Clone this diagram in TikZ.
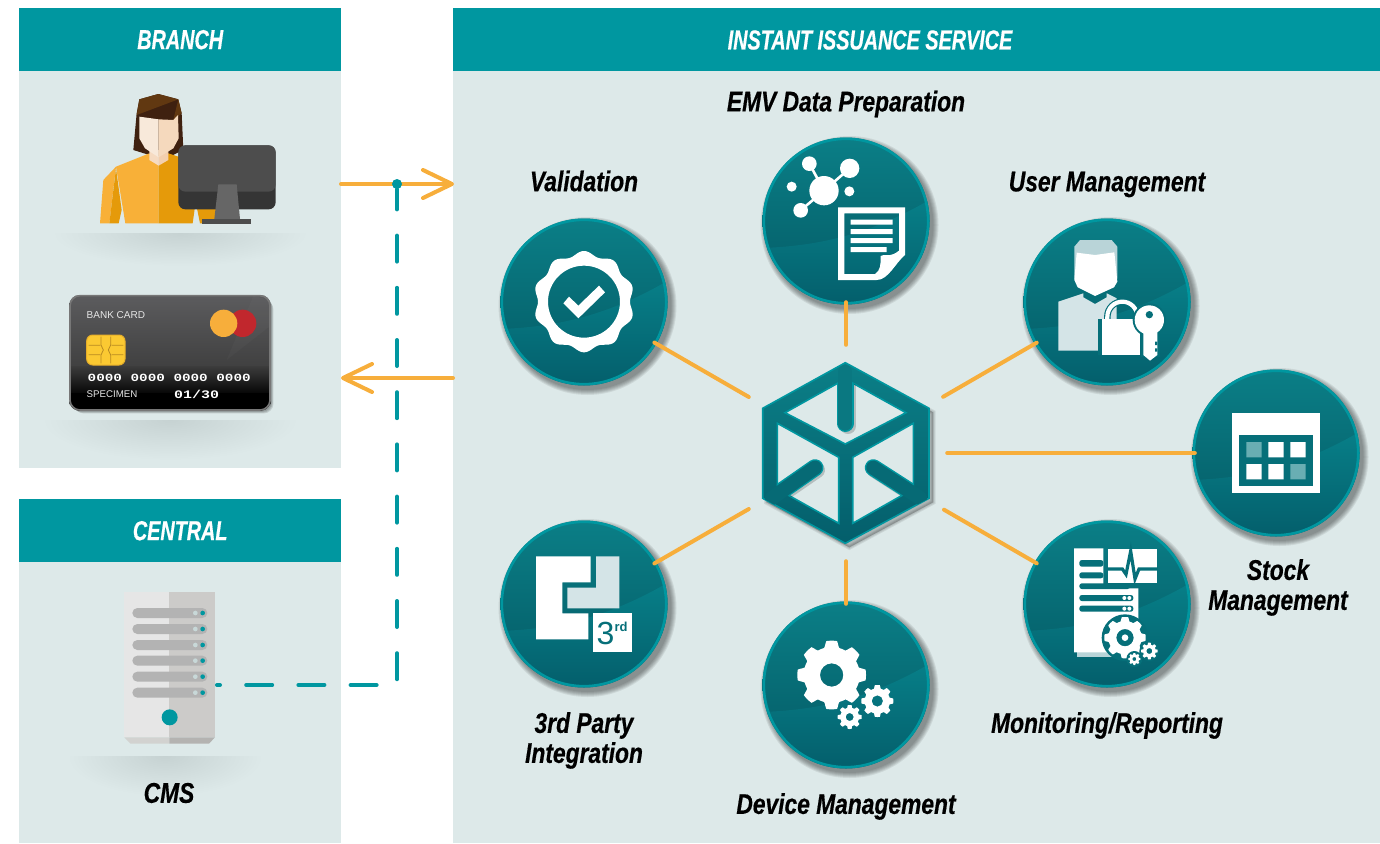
\documentclass[tikz,border=0pt]{standalone}
\usepackage{fontspec}
\usetikzlibrary{arrows.meta,calc}
\setmainfont{Liberation Sans}
\newfontfamily\lblfont{Liberation Sans}[FakeStretch=0.8,FakeBold=0.5]
\newfontfamily\headfont{Liberation Sans}[FakeStretch=0.72,FakeBold=0.5]
\newfontfamily\cardmono{Liberation Mono}[FakeStretch=1.3]
\definecolor{panelbg}{HTML}{DDE9E9}
\definecolor{headteal}{HTML}{0097A0}
\definecolor{orangeline}{HTML}{F7AE3B}
\definecolor{tealA}{HTML}{0B7F87}
\definecolor{tealB}{HTML}{05636D}
\definecolor{tealC}{HTML}{077F88}
\definecolor{tealD}{HTML}{045E6B}
\definecolor{tealmid}{HTML}{066F79}
\definecolor{pale}{HTML}{D4E4E7}
\definecolor{shadowc}{HTML}{C6D2D2}
\newcommand{\hexc}[1]{\definecolor{HTML#1}{HTML}{#1}}
\hexc{3F2110}\hexc{613811}\hexc{F8B038}\hexc{E59A0A}\hexc{F6DBC2}\hexc{F3CFAE}\hexc{F8E9DA}\hexc{F5D9BD}
\hexc{353535}\hexc{4D4D4D}\hexc{666666}\hexc{5C5C5E}\hexc{3B3B3B}\hexc{777777}\hexc{C1272D}\hexc{F7AE3B}
\hexc{FBC932}\hexc{E6AE2A}\hexc{B88A22}\hexc{E6E6E6}\hexc{CCCBC9}\hexc{D2D2D0}\hexc{B4B3B1}\hexc{B3B3B3}
\hexc{C8D8D8}\hexc{B9D4D8}\hexc{69AEB3}
\tikzset{
  panel/.style={fill=panelbg,draw=none,inner sep=0pt,anchor=north west},
  header/.style={fill=headteal,draw=none,inner sep=0pt,anchor=north west,text=white,font=\headfont\bfseries\itshape\fontsize{27.5}{31}\selectfont},
  lbl/.style={text=black,align=center,inner sep=0pt,font=\lblfont\bfseries\itshape\fontsize{28.5}{30}\selectfont},
  conn/.style={draw=orangeline,line width=4pt,line cap=round},
  barb/.style={-{Straight Barb[round,length=29pt,width=28pt,line width=4pt]}},
  dashline/.style={draw=headteal,line width=4pt,line cap=round,dash pattern=on 26pt off 26.2pt,dash phase=23pt},
  zoomed/.style={x=.33333pt,y=-.33333pt},
  badgenode/.style={circle,minimum size=162pt,inner sep=0pt,draw=none},
  cardtext/.style={text=white,inner sep=0pt,anchor=west}
}
\newcommand{\floorshadow}[4]{%
  \begin{scope}
    \clip (#1-#3-2,#2) rectangle (#1+#3+2,#2+#4+2);
    \shade[inner color=shadowc,outer color=panelbg] (#1,#2) ellipse [x radius=#3,y radius=#4];
  \end{scope}}
\newcommand{\badgedisc}[2]{%
  \foreach \rr in {89,88,87,86,85,84}{\fill[black,opacity=.075] (#1+3.5,#2+4) circle (\rr);}
  \begin{scope}
    \clip (#1,#2) circle (83.5);
    \shade[top color=tealA,bottom color=tealB] (#1-85,#2-85) rectangle (#1+85,#2+40);
    \shade[top color=tealC,bottom color=tealD] (#1-85,#2+27) .. controls (#1-20,#2+25) and (#1+30,#2+10) .. (#1+85,#2-22) -- (#1+85,#2+85) -- (#1-85,#2+85) -- cycle;
  \end{scope}
  \draw[headteal,line width=2.6pt] (#1,#2) circle (82.2);}
\newcommand{\gearat}[6]{% cx cy Rout Rin hole colour
  \fill[#6,even odd rule] plot[samples=161,domain=0:360,variable=\t]
   ({#1+(#4+(#3-#4)*max(0,min(1,0.62+1.25*cos(8*\t))))*cos(\t)},{#2+(#4+(#3-#4)*max(0,min(1,0.62+1.25*cos(8*\t))))*sin(\t)}) -- cycle (#1,#2) circle (#5);}
\newcommand{\hexpath}{(845.3,362.7)--(929,408.3)--(929,498.3)--(845.3,543.3)--(762.7,498.3)--(762.7,408.3)--cycle}
\newcommand{\holeA}{(785,412.7)--(845.3,379)--(906,412.7)--(845.3,444)--cycle}
\newcommand{\holeB}{(777.3,423.3)--(838.7,457.3)--(838.7,523.3)--(777.3,489)--cycle}
\newcommand{\holeC}{(913.3,423.3)--(852.7,457.3)--(852.7,523.3)--(913.3,489)--cycle}
\begin{document}
\begin{tikzpicture}[x=1pt,y=-1pt,line join=miter]
\useasboundingbox (0,0) rectangle (1380,843);
\fill[white] (0,0) rectangle (1380,843);
% panels
\node[panel,minimum width=322pt,minimum height=397pt] (branchbody) at (19,71) {};
\node[header,minimum width=322pt,minimum height=63pt] (branchhead) at (19,8) {BRANCH};
\node[panel,minimum width=322pt,minimum height=281pt] (centralbody) at (19,562) {};
\node[header,minimum width=322pt,minimum height=63pt] (centralhead) at (19,499) {CENTRAL};
\node[panel,minimum width=927pt,minimum height=772pt] (servicebody) at (453,71) {};
\fill[headteal] (453,8) rectangle (1380,71);
\node[header,anchor=center,fill=none] (servicehead) at (870,40) {INSTANT ISSUANCE SERVICE};
% floor shadows
\floorshadow{180}{233}{128}{33}
\floorshadow{170}{420}{128}{40}
\floorshadow{165}{756}{98}{40}
% person and monitor
\begin{scope}[shift={(20,70)},zoomed]
  \fill[HTML3F2110] (358,88)--(415,72)--(475,88)--(485,130)--(490,240)--(445,262)--(388,255)--(340,240)--(350,130)--cycle;
  \fill[HTML613811] (350,135)--(358,88)--(415,72)--(475,88)--cycle;
  \fill[HTML613811] (475,88)--(485,130)--(460,150)--cycle;
  \fill[HTMLF8B038] (288,290)--(388,250)--(416,287)--(416,460)--(316,460)--cycle;
  \fill[HTMLE59A0A] (416,287)--(445,250)--(490,265)--(490,410)--(525,410)--(518,460)--(416,460)--cycle;
  \fill[HTMLE59A0A] (530,410)--(590,410)--(590,460)--(540,460)--cycle;
  \fill[HTMLF8B038] (288,290)--(250,330)--(240,460)--(268,460)--cycle;
  \fill[HTMLE59A0A] (288,295)--(268,460)--(296,460)--(305,420)--cycle;
  \fill[HTMLF6DBC2] (388,240)--(416,240)--(416,287)--(388,270)--cycle;
  \fill[HTMLF3CFAE] (416,240)--(445,240)--(445,270)--(416,287)--cycle;
  \fill[HTMLF8E9DA] (358,140)--(416,148)--(416,262)--(375,235)--(358,205)--cycle;
  \fill[HTMLF5D9BD] (416,148)--(460,150)--(474,135)--(476,205)--(460,235)--(416,262)--cycle;
  \fill[HTML353535,rounded corners=7pt] (475,226) rectangle (767,418);
  \fill[HTML4D4D4D,rounded corners=7pt] (475,226) rectangle (767,365);
  \fill[HTML666666] (595,343)--(650,343)--(660,447)--(583,447)--cycle;
  \fill[HTML4D4D4D] (546,447) rectangle (693,462);
\end{scope}
% card
\begin{scope}[shift={(40,280)},zoomed]
  \foreach \o in {14,10,6}{\fill[black,opacity=.12,rounded corners=10pt] (88+\o,45+\o) rectangle (692+\o*.6,392+\o*.6);}
  \shade[top color=HTML5C5C5E,bottom color=HTML3B3B3B,rounded corners=10pt] (88,45) rectangle (692,300);
  \shade[top color=HTML3B3B3B,bottom color=black] (88,260) rectangle (692,350);
  \fill[black,rounded corners=10pt] (88,345) rectangle (692,392);
  \fill[black] (88,340) rectangle (692,360);
  \fill[white,opacity=.025] (640,48)--(688,60)--(688,140)--(560,240)--cycle;
  \draw[HTML777777,line width=1.6pt,rounded corners=10pt] (90,47) rectangle (690,390);
  \fill[HTMLC1272D] (608,130) circle (41);
  \fill[HTMLF7AE3B] (551,130) circle (41);
  \fill[HTMLFBC932,draw=HTMLE6AE2A,line width=1pt,rounded corners=6pt] (140,165) rectangle (255,255);
  \draw[HTMLB88A22,line width=.8pt] (146,196)--(180,196) (146,224)--(180,224) (215,196)--(250,196) (215,224)--(250,224)
     (183,170)--(183,195)--(190,210)--(183,225)--(183,250) (212,170)--(212,195)--(205,210)--(212,225)--(212,250);
\end{scope}
\node[cardtext,font=\fontsize{10}{12}\selectfont,text=HTMLE6E6E6] (cardname) at (86.5,315) {BANK CARD};
\node[cardtext,font=\cardmono\bfseries\fontsize{11}{12}\selectfont] (cardnum) at (87.5,378) {0000 0000 0000 0000};
\node[cardtext,font=\fontsize{9.7}{12}\selectfont,text=HTMLE6E6E6] (cardspec) at (86.5,394.5) {SPECIMEN};
\node[cardtext,font=\cardmono\bfseries\fontsize{11.5}{12}\selectfont] (cardexp) at (174,394) {01/30};
% server
\begin{scope}[shift={(90,580)},zoomed]
  \fill[HTMLE6E6E6] (103,37) rectangle (238,472);
  \fill[HTMLCCCBC9] (238,37) rectangle (375,472);
  \fill[HTMLD2D2D0] (103,472)--(238,472)--(238,491)--(122,491)--cycle;
  \fill[HTMLB4B3B1] (238,472)--(375,472)--(357,491)--(238,491)--cycle;
  \foreach \yy in {99,147,195,242,290,338}{
    \fill[HTMLB3B3B3,rounded corners=5pt] (127,\yy-15) rectangle (352,\yy+15);
    \fill[HTMLC8D8D8] (316,\yy) circle (7);
    \fill[headteal] (338,\yy) circle (7);
  }
  \fill[headteal] (239,412) circle (24);
\end{scope}
\coordinate (cmsport) at (217,685);
% discs
\badgedisc{584}{302}
\badgedisc{846}{221}
\badgedisc{1107}{302}
\badgedisc{1276}{453}
\badgedisc{1107}{604}
\badgedisc{846}{685}
\badgedisc{584}{604}
\node[badgenode] (validation) at (584,302) {};
\node[badgenode] (emv) at (846,221) {};
\node[badgenode] (user) at (1107,302) {};
\node[badgenode] (stock) at (1276,453) {};
\node[badgenode] (monitor) at (1107,604) {};
\node[badgenode] (device) at (846,685) {};
\node[badgenode] (third) at (584,604) {};
% validation icon
\begin{scope}[shift={(495,215)},zoomed]
  \fill[white,even odd rule] plot[samples=181,domain=0:360,variable=\t,smooth] ({267+(145+7*cos(10*(\t+90)))*cos(\t)},{260+(145+7*cos(10*(\t+90)))*sin(\t)}) -- cycle (267,260) circle (108);
  \fill[white] (205,265)--(250,310)--(330,232)--(312,212)--(250,272)--(222,245)--cycle;
\end{scope}
% emv icon
\begin{scope}[shift={(750,130)},zoomed]
  \draw[white,line width=2.6pt] (178,101)--(222,182)--(299,115) (222,182)--(152,241);
  \foreach \a/\b/\r in {222/182/44,178/101/22,299/115/29,125/170/15,298/184/15,152/241/22}{\fill[white] (\a,\b) circle (\r);}
  \fill[white,even odd rule] (264,232)--(465,232)--(465,375) .. controls (435,400) and (415,450) .. (380,450) -- (264,450)--cycle
     (283,250)--(447,250)--(447,362) .. controls (420,385) and (400,370) .. (392,378) .. controls (392,405) and (392,420) .. (375,432) -- (283,432)--cycle;
  \fill[white] (302,269) rectangle (428,284) (302,297) rectangle (428,312) (302,324) rectangle (428,339) (302,351) rectangle (410,366);
\end{scope}
% user icon
\begin{scope}[shift={(1015,210)},zoomed]
  \fill[HTMLB9D4D8] (195,90)--(290,90)--(307,110)--(307,205)--(178,205)--(178,110)--cycle;
  \fill[white] (185,128)--(240,135)--(298,127)--(307,215)--(297,232)--(240,258)--(188,232)--(178,210)--cycle;
  \fill[pale] (130,275)--(205,250)--(205,262)--(240,282)--(275,262)--(275,250)--(305,265)--(305,330)--(250,330)--(250,422)--(130,422)--cycle;
  \fill[tealmid] (250,328) rectangle (270,435);
  \draw[tealmid,line width=6.5pt] (277,345)--(277,320) arc[start angle=180,end angle=360,radius=45]--(367,345);
  \draw[white,line width=4.2pt] (277,345)--(277,320) arc[start angle=180,end angle=360,radius=45]--(367,345);
  \fill[white] (262,328) rectangle (375,435);
  \fill[tealmid] (403,330) circle (50);
  \fill[tealmid] (378,360) rectangle (434,440);
  \fill[white] (403,330) circle (44);
  \fill[white] (385,365)--(427,365)--(427,435)--(405,452)--(385,435)--cycle;
  \fill[tealmid] (403,314) circle (11);
  \fill[tealmid] (420,395) rectangle (427,405) (420,415) rectangle (427,425);
\end{scope}
% stock icon
\begin{scope}[shift={(1185,365)},zoomed]
  \fill[white] (141,145) rectangle (405,385);
  \fill[tealmid] (163,210) rectangle (383,363);
  \fill[HTML69AEB3] (184,231) rectangle (230,277) (316,297) rectangle (362,343);
  \fill[white] (250,231) rectangle (296,277) (316,231) rectangle (362,277) (184,297) rectangle (230,343) (250,297) rectangle (296,343);
\end{scope}
% monitoring icon
\begin{scope}[shift={(1015,515)},zoomed]
  \fill[HTMLB9D4D8] (185,405) rectangle (315,426);
  \fill[white] (177,100)--(265,100)--(265,220)--(370,220)--(370,412)--(177,412)--cycle;
  \foreach \a/\b/\c in {135/155/265,172/190/265,205/222/345}{\fill[tealmid,rounded corners=2.5pt] (193,\a) rectangle (\c,\b);}
  \foreach \a/\b in {240/258,272/290}{\fill[tealmid,rounded corners=2.5pt] (193,\a) rectangle (355,\b);
     \fill[white] (328,{(\a+\b)/2}) circle (6); \fill[white] (343,{(\a+\b)/2}) circle (6);}
  \fill[white] (280,102) rectangle (427,205);
  \draw[tealmid,line width=3.2pt] (278,162)--(322,162)--(333,178)--(347,108)--(360,192)--(372,162)--(429,162);
  \fill[tealmid] (330,368) circle (70);
  \gearat{330}{368}{62}{50}{26}{white}
  \fill[white] (330,368) circle (10);
  \fill[tealmid] (403,408) circle (30);
  \gearat{403}{408}{25}{19}{9}{white}
  \fill[tealmid] (358,432) circle (24);
  \gearat{358}{432}{18}{14}{6}{white}
\end{scope}
% device icon
\begin{scope}[shift={(755,595)},zoomed]
  \gearat{230}{240}{103}{84}{35}{white}
  \gearat{367}{318}{48}{38}{17}{white}
  \gearat{284}{366}{36}{28}{12}{white}
\end{scope}
% third party icon
\begin{scope}[shift={(495,525)},zoomed]
  \fill[white] (123,94)--(287,94)--(287,172)--(202,172)--(202,265)--(280,265)--(280,343)--(123,343)--cycle;
  \fill[pale] (303,94)--(373,94)--(373,250)--(217,250)--(217,188)--(303,188)--cycle;
  \fill[white] (295,265) rectangle (411,381);
\end{scope}
\node[inner sep=0pt,text=tealmid,font=\fontsize{32}{32}\selectfont] (three) at (605.5,633) {3};
\node[inner sep=0pt,text=tealmid,font=\bfseries\fontsize{13}{13}\selectfont] (rd) at (621,627) {rd};
% cube
\node[circle,minimum size=202pt,inner sep=0pt,draw=none] (cube) at (846,453) {};
\begin{scope}[shift={(4,4)}]
  \foreach \w in {5,3,1}{\draw[black,opacity=.08,line width=\w pt,fill=black,fill opacity=.08] \hexpath;}
\end{scope}
\shade[top color=tealA,bottom color=tealD] \hexpath;
\draw[headteal,line width=1.6pt] \hexpath;
\fill[panelbg,draw=headteal,line width=1.6pt] \holeA;
\fill[panelbg,draw=headteal,line width=1.6pt] \holeB;
\fill[panelbg,draw=headteal,line width=1.6pt] \holeC;
\begin{scope}
  \clip \holeA \holeB \holeC;
  \draw[black,opacity=.18,line width=16pt,line cap=round] (848,375)--(848,426);
  \draw[black,opacity=.18,line width=16pt,line cap=round] (772,501)--(817,470);
  \draw[black,opacity=.18,line width=16pt,line cap=round] (923,501)--(875,470);
  \draw[headteal,line width=17pt,line cap=round] (845.3,370)--(845.3,423.5);
  \draw[headteal,line width=17pt,line cap=round] (770,499)--(815,467.7);
  \draw[headteal,line width=17pt,line cap=round] (922,499)--(873.3,467.7);
\end{scope}
\begin{scope}
  \clip \hexpath;
  \draw[tealA!80!tealD,line width=14.2pt,line cap=round] (845.3,372)--(845.3,423.5);
  \draw[tealA!35!tealD,line width=14.2pt,line cap=round] (772,498)--(815,467.7);
  \draw[tealA!35!tealD,line width=14.2pt,line cap=round] (920,498)--(873.3,467.7);
\end{scope}
% connectors
\draw[conn,shorten <=11pt] (cube) -- (validation);
\draw[conn,shorten <=7pt] (cube) -- (emv);
\draw[conn,shorten <=11pt] (cube) -- (user);
\draw[conn] (cube) -- (stock);
\draw[conn,shorten <=12pt] (cube) -- (monitor);
\draw[conn,shorten <=7pt] (cube) -- (device);
\draw[conn,shorten <=11pt] (cube) -- (third);
\coordinate (outA) at (341,184);
\coordinate (inA) at (454,184);
\coordinate (outB) at (453,378);
\coordinate (inB) at (341,378);
\draw[conn,barb] (outA) -- (inA);
\node[circle,fill=headteal,inner sep=0pt,minimum size=10pt] (junction) at (397,184) {};
\draw[dashline] (cmsport) -| (junction);
\draw[conn,barb] (outB) -- (inB);
% labels
\node[lbl] (lemv) at (846,104) {EMV Data Preparation};
\node[lbl] (lval) at (584,181) {Validation};
\node[lbl] (luser) at (1107,184.5) {User Management};
\node[lbl] (lstock) at (1278,587.5) {Stock\\Management};
\node[lbl] (lmon) at (1107,725.5) {Monitoring/Reporting};
\node[lbl] (ldev) at (846,806.5) {Device Management};
\node[lbl] (lthird) at (584,740.5) {3rd Party\\Integration};
\node[lbl] (lcms) at (169,793) {CMS};
\end{tikzpicture}
\end{document}
